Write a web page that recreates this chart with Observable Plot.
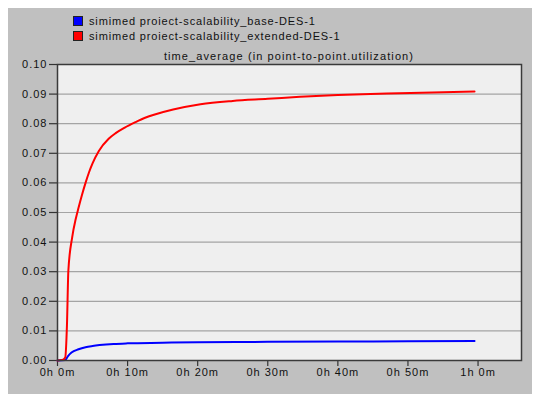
<!DOCTYPE html>
<html>
<head>
<meta charset="utf-8">
<script src="https://cdn.jsdelivr.net/npm/d3@7"></script>
<script src="https://cdn.jsdelivr.net/npm/@observablehq/plot@0.6"></script>
<style>
  html, body { margin: 0; padding: 0; background: #ffffff; }
  body { width: 540px; height: 394px; position: relative; overflow: hidden; font-family: "Liberation Sans", Arial, sans-serif; }
  #panel { position: absolute; left: 8px; top: 8px; width: 524px; height: 386px; background: #c0c0c0; }
  .lg { position: absolute; left: 65px; font-size: 11px; letter-spacing: 0.85px; color: #111; line-height: 12px; white-space: nowrap; }
  .lg .sw { display: inline-block; width: 8px; height: 8px; border: 1px solid #222; margin-right: 6px; vertical-align: -1px; }
  #title { position: absolute; left: 49px; width: 464px; top: 42px; text-align: center; font-size: 11px; letter-spacing: 1.1px; color: #111; white-space: nowrap; }
  #chart { position: absolute; left: 0; top: 50px; }
  #chart svg text { letter-spacing: 1px; }
</style>
</head>
<body>
<div id="panel">
  <div id="legend"></div>
  <div id="title"></div>
  <div id="chart"></div>
</div>
<script>
const titleText = "time_average (in point-to-point.utilization)";
const seriesNames = ["simimed proiect-scalability_base-DES-1", "simimed proiect-scalability_extended-DES-1"];
const seriesColors = ["#0000ff", "#ff0000"];

// minutes
const baseTimes = [0, 1.1, 1.5, 2, 3, 4, 5, 6, 8, 10, 15, 20, 30, 40, 50, 59.5];
const baseValues = [0, 0.0002, 0.0015, 0.0027, 0.0038, 0.0045, 0.0049, 0.0052, 0.0056, 0.0058, 0.0060, 0.0062, 0.0063, 0.0064, 0.0065, 0.0066];

const extTimes = [0, 0.8, 1.1, 1.35, 1.55, 2.1, 2.6, 3.0, 3.5, 4.0, 4.5, 5.0, 5.9, 7.3, 8.3, 9.6, 11.1, 12.5, 14, 16.5, 20.4, 25, 30, 34.6, 40, 47, 53.5, 59.5];
const extValues = [0, 0.0003, 0.001, 0.012, 0.0304, 0.0417, 0.0478, 0.0516, 0.0560, 0.0600, 0.0636, 0.0666, 0.0708, 0.0749, 0.0768, 0.0787, 0.0805, 0.0820, 0.0832, 0.0848, 0.0866, 0.0877, 0.0884, 0.0891, 0.0897, 0.0902, 0.0905, 0.0909];

const xTicks = [0, 10, 20, 30, 40, 50, 60];
const yTicks = [0, 0.01, 0.02, 0.03, 0.04, 0.05, 0.06, 0.07, 0.08, 0.09, 0.10];
const xMax = 66.2;

const data = [
  ...baseTimes.map((t, i) => ({t, v: baseValues[i], s: seriesNames[0]})),
  ...extTimes.map((t, i) => ({t, v: extValues[i], s: seriesNames[1]}))
];

// legend
const legend = document.getElementById("legend");
seriesNames.forEach((n, i) => {
  const d = document.createElement("div");
  d.className = "lg";
  d.style.top = (7 + i * 14.5) + "px";
  d.innerHTML = `<span class="sw" style="background:${seriesColors[i]}"></span>${n}`;
  legend.appendChild(d);
});
document.getElementById("title").textContent = titleText;

const fmtX = m => m >= 60 ? `${Math.floor(m/60)}h ${m%60}m` : `0h ${m}m`;

const chart = Plot.plot({
  width: 524,
  height: 336,
  marginLeft: 49,
  marginRight: 11,
  marginTop: 6,
  marginBottom: 34,
  style: {background: "transparent", fontFamily: "Liberation Sans, Arial, sans-serif", fontSize: "11px", color: "#111"},
  x: {domain: [0, xMax], ticks: xTicks, tickFormat: fmtX, label: null, tickSize: 6, tickPadding: 2},
  y: {domain: [0, 0.1], ticks: yTicks, tickFormat: d3.format(".2f"), label: null, tickSize: 8, tickPadding: 2},
  color: {domain: seriesNames, range: seriesColors},
  marks: [
    Plot.frame({fill: "#efefef"}),
    Plot.ruleY(yTicks.slice(1, -1), {stroke: "#a4a4a4", strokeWidth: 1.2}),
    Plot.axisX({ticks: xTicks, tickFormat: fmtX, tickSize: 6, tickPadding: 2, stroke: "#333", strokeWidth: 1.2}),
    Plot.axisY({ticks: yTicks, tickFormat: d3.format(".2f"), tickSize: 8, tickPadding: 2, stroke: "#333", strokeWidth: 1.2}),
    Plot.line(data, {x: "t", y: "v", z: "s", stroke: "s", strokeWidth: 2, curve: "monotone-x"}),
    Plot.frame({stroke: "#3a3a3a", strokeWidth: 1.5})
  ]
});
document.getElementById("chart").appendChild(chart);
</script>
</body>
</html>
